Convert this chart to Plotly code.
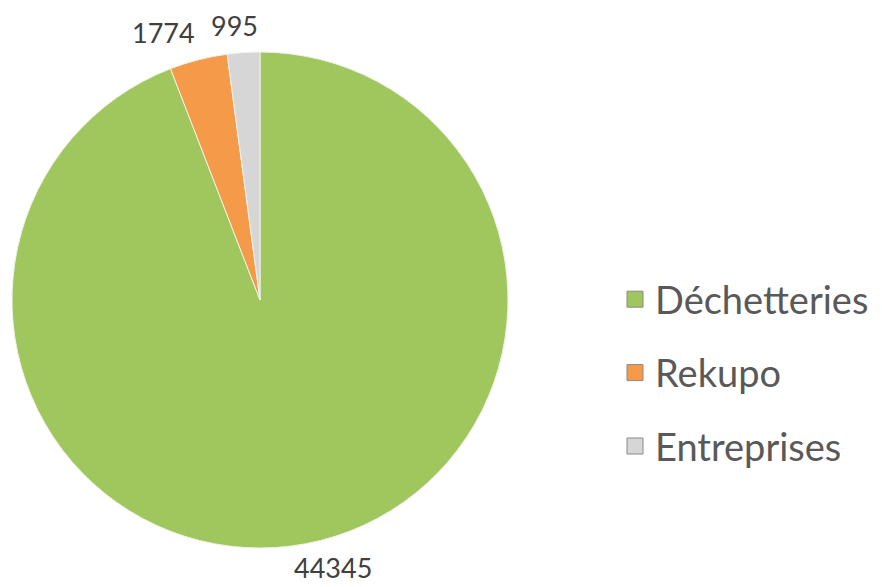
import math
import plotly.graph_objects as go

categories = ["Déchetteries", "Rekupo", "Entreprises"]
values = [44345, 1774, 995]
colors = ["#A0C65E", "#F59A48", "#D6D6D6"]

W, H = 882, 587
# pie geometry in pixels (plot area)
CX, CY, R = 252, 292, 248

fig = go.Figure()
fig.add_trace(go.Pie(
    labels=categories,
    values=values,
    sort=False,
    direction="clockwise",
    rotation=0,
    marker=dict(colors=colors, line=dict(color="#EEF2E6", width=1)),
    textinfo="none",
    showlegend=False,
    hoverinfo="label+value",
    domain=dict(x=[(CX - R) / W, (CX + R) / W], y=[1 - (CY + R) / H, 1 - (CY - R) / H]),
))

# data labels placed just outside each slice's mid-angle
total = sum(values)
cum = 0
for v in values:
    frac = (cum + v / 2) / total
    cum += v
    a = 2 * math.pi * frac
    sx, cy_ = math.sin(a), math.cos(a)
    LR = R + (10 if cy_ > 0 else 6)
    px = CX + sx * LR
    py = CY - cy_ * LR
    xanchor = "right" if sx < 0 else "left"
    if abs(sx) < 0.1:
        xanchor = "center"
        px -= 8
    elif sx > 0:
        px -= 14
    yanchor = "bottom" if cy_ > 0 else "top"
    fig.add_annotation(
        x=px / W, y=1 - py / H, xref="paper", yref="paper",
        text=str(v), showarrow=False, xanchor=xanchor, yanchor=yanchor,
        borderpad=0,
        font=dict(family="Lato, Open Sans, sans-serif", size=27, color="#404040"),
    )

# legend entries (one group each, for spacing)
for name, col in zip(categories, colors):
    fig.add_trace(go.Scatter(
        x=[None], y=[None], mode="markers", name=name, legendgroup=name,
        marker=dict(symbol="square", size=24, color=col, line=dict(color="#8A8A8A", width=1)),
        hoverinfo="skip",
    ))

fig.update_layout(
    width=W, height=H,
    margin=dict(l=0, r=0, t=0, b=0),
    paper_bgcolor="white",
    plot_bgcolor="white",
    xaxis=dict(visible=False),
    yaxis=dict(visible=False),
    legend=dict(
        x=607 / W, y=1 - 260 / H, xanchor="left", yanchor="top",
        font=dict(family="Lato, Open Sans, sans-serif", size=38, color="#595959"),
        tracegroupgap=21,
        itemwidth=30,
        bgcolor="rgba(0,0,0,0)",
    ),
)

fig.write_html("out.html")
